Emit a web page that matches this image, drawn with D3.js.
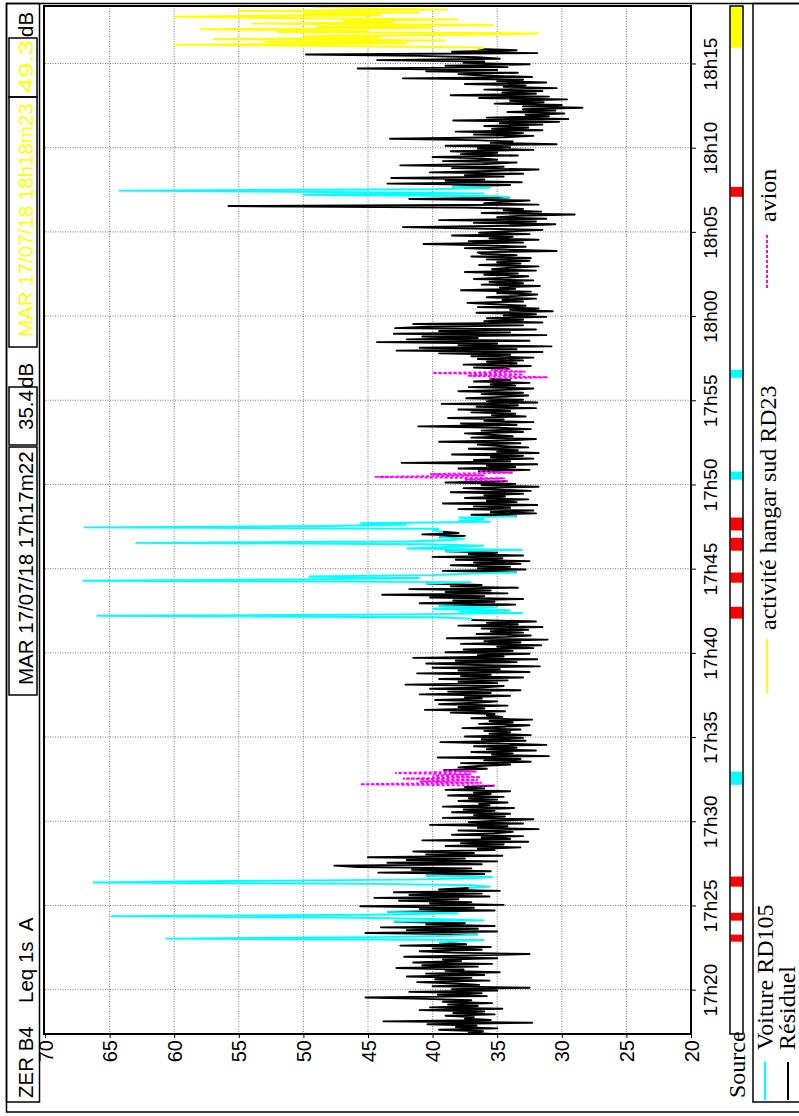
<!DOCTYPE html>
<html>
<head>
<meta charset="utf-8">
<script src="https://cdn.jsdelivr.net/npm/d3@7"></script>
<style>
body { margin: 0; background: #fff; }
svg { display: block; }
text { white-space: pre; }
</style>
</head>
<body>
<script>

// ---- data ----
var station = 'ZER B4';
var indice = 'Leq 1s  A';
var jour = 'MAR 17/07/18';
var debut = '17:17:22';
var fin = '18:18:23';
var pas = 5; // secondes entre deux valeurs

// Leq (dB) toutes les 5 s, une ligne par minute
var leq = [
	35.4, 37.2, 36.1, 39.5, 35.0, 38.2, 36.6, 40.4, 32.3, 43.8, 35.5, 37.5,
	36.8, 39.0, 35.2, 38.4, 36.0, 41.0, 34.6, 40.2, 36.5, 38.8, 35.4, 39.2,
	37.0, 40.5, 45.2, 35.8, 39.6, 36.2, 41.8, 35.0, 38.5, 32.5, 40.0, 36.4,
	38.2, 41.2, 35.6, 39.8, 37.0, 42.0, 36.0, 40.5, 34.8, 39.0, 37.6, 42.8,
	36.5, 40.8, 35.4, 41.5, 37.8, 39.2, 35.0, 42.2, 36.8, 32.5, 38.6, 41.0,
	36.2, 40.0, 35.5, 42.5, 37.4, 39.5, 38.5, 36.0, 60.7, 44.0, 38.5, 36.5,
	45.2, 35.0, 42.0, 36.5, 44.0, 35.2, 40.5, 37.5, 43.0, 36.0, 40.0, 47.0,
	64.9, 45.0, 38.0, 43.5, 35.2, 41.0, 36.8, 45.6, 34.5, 40.2, 37.0, 42.6,
	38.0, 44.5, 35.6, 41.8, 36.2, 43.0, 34.8, 39.5, 37.2, 35.5, 37.0, 44.0,
	66.3, 55.7, 42.0, 36.9, 35.3, 40.5, 36.0, 44.2, 35.5, 41.6, 37.0, 45.8,
	47.6, 36.2, 43.5, 35.0, 42.0, 37.5, 45.0, 34.6, 40.5, 36.8, 41.5, 35.2,
	36.5, 33.2, 39.0, 34.5, 37.8, 32.6, 40.8, 34.0, 36.2, 33.0, 38.5, 35.2,
	33.8, 38.0, 31.8, 36.5, 34.2, 40.2, 33.0, 37.2, 35.0, 32.2, 39.2, 34.4,
	36.8, 34.0, 38.5, 35.2, 37.6, 33.7, 39.2, 35.6, 36.4, 34.2, 38.0, 35.0,
	37.2, 34.5, 38.8, 35.5, 36.8, 34.0, 39.0, 36.0, 37.5, 35.2, 45.6, 36.2,
	41.0, 36.5, 42.3, 36.3, 40.0, 37.0, 42.9, 36.6, 39.2, 35.8, 38.0, 36.4,
	34.0, 37.8, 32.4, 36.0, 33.2, 39.6, 31.0, 35.4, 33.8, 37.0, 32.0, 35.8,
	33.5, 36.8, 31.2, 35.0, 39.4, 32.8, 36.2, 33.0, 37.5, 32.4, 35.6, 34.0,
	36.0, 33.2, 37.7, 34.4, 32.5, 36.4, 33.8, 35.6, 32.3, 37.0, 34.6, 35.8,
	35.2, 38.6, 34.4, 40.6, 36.0, 38.0, 34.2, 39.5, 36.6, 35.0, 39.8, 36.2,
	37.5, 34.0, 41.0, 35.5, 38.8, 33.2, 40.2, 36.0, 34.5, 42.1, 35.0, 38.0,
	34.2, 39.5, 33.0, 37.8, 35.5, 41.2, 32.5, 38.0, 34.8, 40.0, 31.7, 36.5,
	40.5, 33.5, 38.2, 31.9, 41.5, 34.5, 36.5, 32.5, 39.0, 33.8, 37.6, 32.2,
	35.0, 31.6, 37.8, 33.2, 36.0, 31.1, 38.9, 34.2, 32.4, 36.6, 33.0, 35.5,
	32.6, 36.2, 31.5, 38.0, 33.4, 35.8, 32.0, 37.0, 37.0, 40.0, 66.0, 42.0,
	33.0, 38.0, 34.0, 40.0, 35.0, 39.5, 33.6, 41.0, 35.2, 38.4, 33.0, 40.2,
	36.0, 43.9, 34.2, 39.0, 35.5, 41.8, 33.4, 38.6, 36.2, 40.5, 37.0, 67.1,
	50.0, 41.0, 49.6, 40.0, 37.5, 33.5, 39.2, 32.8, 36.5, 34.0, 38.6, 33.2,
	36.8, 32.5, 38.2, 34.6, 40.0, 33.0, 37.2, 35.0, 39.0, 33.0, 42.0, 38.5,
	36.0, 40.5, 63.0, 42.0, 38.5, 37.5, 39.5, 37.5, 40.8, 38.0, 39.2, 40.0,
	39.5, 67.0, 48.0, 42.0, 45.6, 35.5, 38.0, 36.0, 38.0, 33.5, 37.0, 32.0,
	35.5, 32.2, 38.0, 34.0, 36.8, 31.9, 39.2, 33.5, 35.8, 32.6, 37.5, 34.4,
	36.0, 33.0, 38.6, 32.4, 35.2, 37.6, 31.8, 36.2, 33.6, 39.0, 34.2, 37.5,
	34.4, 44.5, 36.0, 40.2, 33.8, 36.5, 32.5, 38.0, 33.6, 35.8, 31.9, 42.4,
	34.0, 36.8, 32.2, 35.5, 33.0, 38.5, 31.8, 35.0, 33.4, 37.2, 32.6, 34.8,
	36.5, 33.2, 39.5, 34.0, 32.0, 37.0, 33.8, 35.6, 37.5, 33.0, 36.2, 32.4,
	35.0, 41.1, 33.5, 37.8, 32.2, 36.0, 34.5, 38.8, 32.8, 35.4, 33.6, 37.0,
	34.0, 38.0, 32.0, 36.6, 33.4, 39.3, 31.9, 35.8, 33.0, 37.4, 34.6, 32.6,
	36.2, 33.0, 38.0, 34.4, 32.2, 37.2, 33.6, 35.5, 32.5, 36.8, 34.0, 35.6,
	31.1, 37.3, 33.0, 40.0, 32.8, 35.5, 34.0, 36.8, 32.4, 37.6, 33.5, 35.8,
	33.0, 36.5, 32.2, 37.0, 34.0, 39.5, 31.5, 42.8, 33.5, 41.0, 30.8, 38.0,
	35.0, 44.3, 32.5, 42.0, 36.5, 40.8, 31.2, 43.0, 34.0, 39.5, 32.0, 42.9,
	40.4, 33.0, 41.5, 31.5, 36.0, 33.0, 35.8, 31.2, 34.5, 32.0, 36.6, 30.7,
	34.0, 31.8, 36.5, 32.8, 35.2, 37.3, 33.0, 34.6, 32.0, 35.8, 33.4, 31.9,
	35.0, 32.4, 37.8, 33.6, 34.8, 31.7, 36.2, 33.0, 35.6, 32.2, 36.8, 34.0,
	32.6, 36.0, 33.4, 37.5, 32.0, 35.4, 34.0, 31.8, 36.4, 33.2, 35.0, 32.5,
	35.8, 32.4, 37.0, 33.5, 36.2, 36.5, 30.4, 34.8, 37.5, 32.8, 36.0, 40.7,
	33.0, 37.2, 31.8, 35.6, 33.8, 38.5, 32.5, 36.4, 34.0, 31.5, 36.8, 42.3,
	33.5, 30.5, 36.8, 32.0, 39.5, 31.2, 35.0, 33.4, 29.0, 36.2, 31.6, 34.5,
	33.0, 37.5, 55.8, 31.8, 36.0, 34.5, 32.5, 41.8, 34.0, 35.0, 50.0, 36.0,
	48.0, 64.3, 40.0, 35.5, 38.5, 34.0, 43.5, 33.1, 39.0, 36.0, 43.2, 34.5,
	37.5, 33.0, 40.2, 35.6, 31.8, 38.5, 34.5, 42.5, 36.0, 33.5, 39.2, 35.0,
	36.2, 40.0, 33.4, 37.8, 35.0, 38.6, 32.2, 36.5, 34.0, 39.0, 30.4, 35.5,
	33.8, 37.0, 43.3, 34.5, 32.2, 36.8, 33.0, 38.2, 31.5, 35.4, 32.6, 36.0,
	31.5, 34.8, 30.2, 38.4, 29.5, 35.8, 31.0, 32.8, 29.8, 34.2, 30.5, 33.0,
	28.4, 33.0, 30.0, 35.2, 31.4, 34.0, 29.6, 36.4, 31.0, 38.6, 32.0, 34.6,
	31.5, 36.0, 30.4, 34.5, 32.8, 37.5, 31.2, 35.0, 33.0, 42.3, 32.3, 36.2,
	38.0, 33.4, 40.5, 35.0, 45.8, 34.2, 39.0, 32.5, 37.6, 36.0, 44.3, 34.8,
	36.5, 41.0, 49.8, 31.9, 38.5, 33.5, 36.5, 36.0, 48.0, 60.0, 42.0, 53.0,
	39.0, 57.0, 44.0, 50.0, 37.0, 31.8, 52.0, 45.0, 58.0, 40.0, 49.0, 35.3,
	54.0, 43.0, 47.0, 38.0, 52.0, 60.0, 44.0, 50.0, 41.0, 55.0, 38.8, 46.0, 49.3
];

// periodes codees par source
var voitureRD105 = [
	['17:22:51', '17:23:16'], ['17:24:06', '17:24:34'], ['17:26:07', '17:26:43'],
	['17:42:02', '17:42:44'], ['17:44:10', '17:44:46'], ['17:46:04', '17:46:50'],
	['17:47:16', '17:48:02'], ['18:07:05', '18:07:40']
];
var avion = [['17:32:10', '17:32:57'], ['17:50:17', '17:50:46'], ['17:56:20', '17:56:49']];
var hangar = [['18:15:56', '18:18:23']];

var dbTicks = [20, 25, 30, 35, 40, 45, 50, 55, 60, 65, 70];
var heureTicks = ['17:20', '17:25', '17:30', '17:35', '17:40', '17:45', '17:50', '17:55',
	'18:00', '18:05', '18:10', '18:15'];


// ---- setup ----
var W = 799, H = 1116;
var sans = 'Liberation Sans, Arial, sans-serif';
var serif = 'Liberation Serif, Times New Roman, serif';

var svg = d3.select('body').append('svg')
	.attr('width', W)
	.attr('height', H);

var parse = d3.timeParse('%H:%M:%S');
var parseHM = d3.timeParse('%H:%M');
var t0 = parse(debut);
var t1 = parse(fin);

var y = d3.scaleTime().domain([t0, t1]).range([1034, 6.5]);
var x = d3.scaleLinear().domain([20, 70]).range([691, 45]);

var points = leq.map(function (v, j) {
	return { t: new Date(+t0 + j * pas * 1000), v: v, src: null };
});

var sources = [
	{ periodes: voitureRD105, trait: '#00ffff', bande: '#ff0000', tirets: null },
	{ periodes: avion, trait: '#ff00ff', bande: '#00ffff', tirets: '3,2' },
	{ periodes: hangar, trait: '#ffff00', bande: '#ffff00', tirets: null }
];


// ---- grid ----
var grid = svg.append('g');

grid.selectAll('.gx')
	.data(dbTicks.slice(1, -1))
	.enter().append('line')
	.attr('x1', function (d) { return x(d); })
	.attr('x2', function (d) { return x(d); })
	.attr('y1', 6)
	.attr('y2', 1034)
	.attr('stroke', '#777')
	.attr('stroke-width', 1)
	.attr('stroke-dasharray', '1,1.5');

grid.selectAll('.gy')
	.data(heureTicks)
	.enter().append('line')
	.attr('x1', 45)
	.attr('x2', 691)
	.attr('y1', function (d) { return y(parseHM(d)); })
	.attr('y2', function (d) { return y(parseHM(d)); })
	.attr('stroke', '#777')
	.attr('stroke-width', 1)
	.attr('stroke-dasharray', '1,1.5');


// ---- courbes ----
var line = d3.line()
	.x(function (d) { return x(d.v); })
	.y(function (d) { return y(d.t); });

var colored = [];
sources.forEach(function (s) {
	s.periodes.forEach(function (p) {
		var a = parse(p[0]), b = parse(p[1]);
		var idx = [];
		points.forEach(function (d, j) {
			if (d.t >= a && d.t <= b) { d.src = s; idx.push(j); }
		});
		if (idx.length) {
			var lo = Math.max(0, idx[0] - 1);
			var hi = Math.min(points.length - 1, idx[idx.length - 1] + 1);
			colored.push({ s: s, pts: points.slice(lo, hi + 1) });
		}
	});
});

svg.append('path')
	.datum(points)
	.attr('d', line.defined(function (d) { return d.src === null; }))
	.attr('fill', 'none')
	.attr('stroke', '#000')
	.attr('stroke-width', 1.9)
	.attr('stroke-linejoin', 'round');

line.defined(function () { return true; });

svg.selectAll('.src')
	.data(colored)
	.enter().append('path')
	.attr('d', function (d) { return line(d.pts); })
	.attr('fill', 'none')
	.attr('stroke', function (d) { return d.s.trait; })
	.attr('stroke-width', 1.9)
	.attr('stroke-dasharray', function (d) { return d.s.tirets; });


// ---- axes ----
var axX = svg.append('g')
	.attr('transform', 'translate(0,1034)')
	.call(d3.axisBottom(x).tickValues(dbTicks).tickSize(4));

axX.select('.domain').remove();
axX.selectAll('line').attr('stroke', '#000');
axX.selectAll('text')
	.attr('x', 0).attr('y', 0).attr('dy', '0.35em')
	.attr('transform', 'translate(0,6) rotate(-90)')
	.attr('text-anchor', 'end')
	.attr('font-family', sans)
	.attr('font-size', '20px')
	.attr('fill', '#000');

var axY = svg.append('g')
	.attr('transform', 'translate(691,0)')
	.call(d3.axisRight(y)
		.tickValues(heureTicks.map(parseHM))
		.tickFormat(d3.timeFormat('%Hh%M'))
		.tickSize(5));

axY.select('.domain').remove();
axY.selectAll('line').attr('stroke', '#000');
axY.selectAll('text')
	.attr('x', 0).attr('y', 0).attr('dy', 0)
	.attr('transform', 'translate(26,0) rotate(-90)')
	.attr('text-anchor', 'middle')
	.attr('font-family', sans)
	.attr('font-size', '19px')
	.attr('fill', '#000');


// ---- cadres ----
function rect(x0, y0, x1, y1, w) {
	svg.append('rect')
		.attr('x', x0).attr('y', y0)
		.attr('width', x1 - x0).attr('height', y1 - y0)
		.attr('fill', 'none')
		.attr('stroke', '#000')
		.attr('stroke-width', w);
}

rect(6.5, 3.5, 812, 1112, 1.5);     // page (bord droit hors cadre)
rect(6.5, 3.5, 39.5, 1102, 1.5);    // bandeau
rect(44, 6, 691, 1034, 2);          // graphe
rect(753, 3.5, 812, 1102, 1.5);     // legende


// ---- bande source ----
sources.forEach(function (s) {
	svg.selectAll(null)
		.data(s.periodes)
		.enter().append('rect')
		.attr('x', 730.5)
		.attr('width', 12.5)
		.attr('y', function (p) { return y(parse(p[1])); })
		.attr('height', function (p) { return y(parse(p[0])) - y(parse(p[1])); })
		.attr('fill', s.bande);
});
rect(730, 6, 743, 1034, 1.5);

svg.append('text')
	.attr('transform', 'translate(745,1098) rotate(-90)')
	.attr('font-family', serif)
	.attr('font-size', '24px')
	.text('Source');


// ---- bandeau gauche ----
function boite(y0, y1) {
	svg.append('rect')
		.attr('x', 9).attr('y', y0)
		.attr('width', 28).attr('height', y1 - y0)
		.attr('fill', 'none')
		.attr('stroke', '#000')
		.attr('stroke-width', 1.5);
}
boite(38, 97);
boite(97, 347);
boite(387, 445);
boite(447, 695);

function entete(txt, y0, color, len) {
	var t = svg.append('text')
		.attr('transform', 'translate(33,' + y0 + ') rotate(-90)')
		.attr('font-family', sans)
		.attr('font-size', '20.5px')
		.attr('fill', color)
		.text(txt);
	if (len) t.attr('textLength', len).attr('lengthAdjust', 'spacingAndGlyphs');
}

var fmtH = function (s) { return s.replace(':', 'h').replace(':', 'm'); };

entete(station, 1098, '#000');
entete(indice, 1003, '#000');
entete(jour + ' ' + fmtH(debut), 685, '#000');
entete(leq[0].toFixed(1), 430, '#000');
entete('dB', 388, '#000');
entete(jour + ' ' + fmtH(fin), 337, '#ffff00');
entete(leq[leq.length - 1].toFixed(1), 93, '#ffff00', 53);
entete('dB', 37, '#000');


// ---- legende ----
var legende = [
	{ nom: 'Voiture RD105', couleur: '#00ffff', tirets: null, x: 765, xt: 773, y0: 1100, y1: 1062, yt: 1050 },
	{ nom: 'Résiduel', couleur: '#000', tirets: null, x: 788, xt: 795, y0: 1100, y1: 1062, yt: 1050 },
	{ nom: 'activité hangar sud RD23', couleur: '#ffff00', tirets: null, x: 767, xt: 776, y0: 693, y1: 639, yt: 630 },
	{ nom: 'avion', couleur: '#ff00ff', tirets: '3,2', x: 767, xt: 776, y0: 288, y1: 233, yt: 222 }
];

legende.forEach(function (d) {
	svg.append('line')
		.attr('x1', d.x).attr('x2', d.x)
		.attr('y1', d.y0).attr('y2', d.y1)
		.attr('stroke', d.couleur)
		.attr('stroke-width', 2)
		.attr('stroke-dasharray', d.tirets);

	svg.append('text')
		.attr('transform', 'translate(' + d.xt + ',' + d.yt + ') rotate(-90)')
		.attr('font-family', serif)
		.attr('font-size', '24px')
		.attr('fill', '#000')
		.text(d.nom);
});

</script>
</body>
</html>
